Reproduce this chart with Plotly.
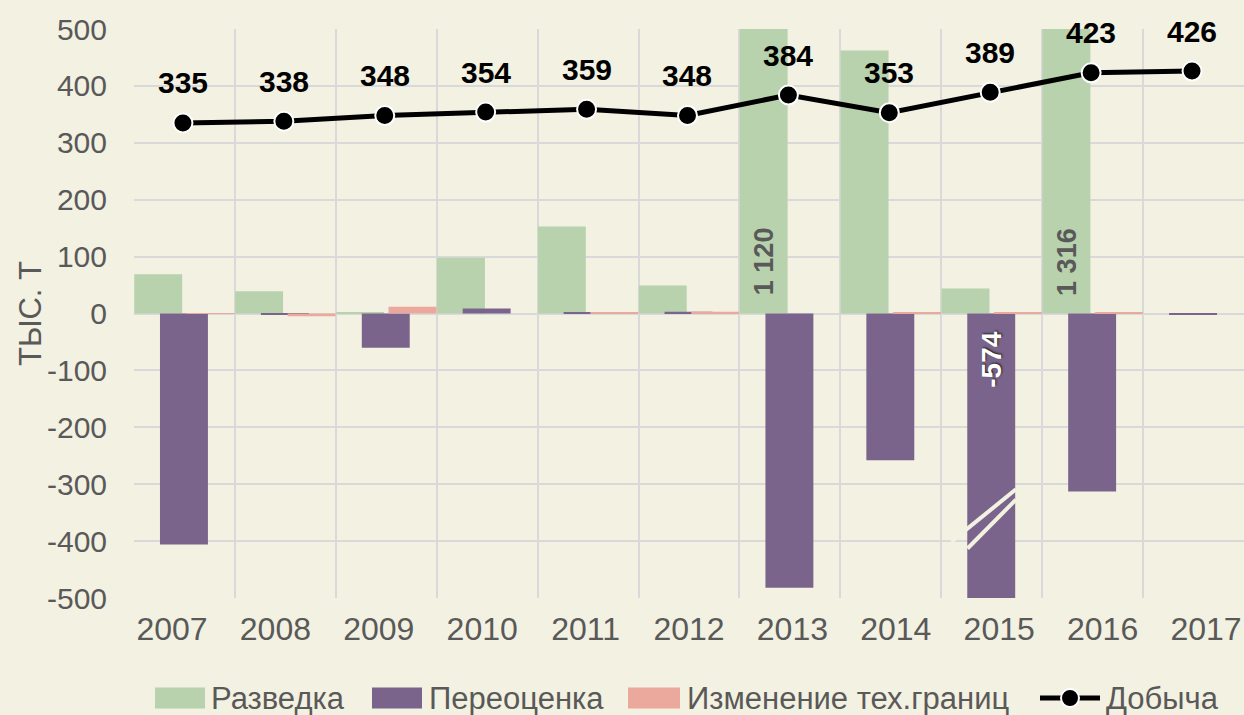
import plotly.graph_objects as go

years = ["2007", "2008", "2009", "2010", "2011", "2012", "2013", "2014", "2015", "2016", "2017"]
razvedka = [69, 39, 1, 98, 153, 49, 1120, 462, 44, 1316, 0]
pereocenka = [-406, -1, -60, 9, 1, 3, -482, -258, -574, -313, -1]
izmenenie = [0.5, -5, 12, 0, 1, 3, 0, 2, 2, 2, 0]
dobycha = [335, 338, 348, 354, 359, 348, 384, 353, 389, 423, 426]

y_ticks = [-500, -400, -300, -200, -100, 0, 100, 200, 300, 400, 500]
y_ticktext = ["-500", "-400", "-300", "-200", "-100", "0", "100", "200", "300", "400", "500"]

label_razv = {6: "1 120", 9: "1 316"}
label_pereoc = {8: "-574"}

series_names = ["Разведка", "Переоценка", "Изменение тех.границ", "Добыча"]

BG = "#F3F1E1"
GREEN = "#B8D2AD"
PURPLE = "#7A648C"
PINK = "#EBA89D"
GRID = "#D9D9D9"
TXT = "#595959"
FONT = "Liberation Sans, Arial, sans-serif"

L, R, T, B, WIDTH, HEIGHT = 134, 0, 29, 117, 1244, 715
PW = WIDTH - L - R
PH = HEIGHT - T - B


def px_x(p):
    return (p - L) / PW


def px_y(p):
    return (HEIGHT - B - p) / PH


idx = list(range(len(years)))
W = 0.475
x_g = [i + 0.24 for i in idx]
x_p = [i + 0.495 for i in idx]
x_k = [i + 0.76 for i in idx]
x_l = [i + 0.485 for i in idx]

# the category labels in the reference sit on a slightly wider spacing than the bars
lab_first, lab_step = 172, 103.4
lab_r0 = -(lab_first - L) / lab_step
lab_r1 = lab_r0 + PW / lab_step

fig = go.Figure()
fig.add_trace(go.Bar(x=x_g, y=razvedka, width=W, name=series_names[0], marker=dict(color=GREEN, line_width=0)))
fig.add_trace(go.Bar(x=x_p, y=pereocenka, width=W, name=series_names[1], marker=dict(color=PURPLE, line_width=0)))
fig.add_trace(go.Bar(x=x_k, y=izmenenie, width=W, name=series_names[2], marker=dict(color=PINK, line_width=0)))
fig.add_trace(go.Scatter(x=x_l, y=dobycha, name=series_names[3], mode="lines+markers",
                         line=dict(color="black", width=5),
                         marker=dict(color="black", size=19, line=dict(color="white", width=2))))
# invisible trace to carry the label axis
fig.add_trace(go.Scatter(x=idx, y=dobycha, xaxis="x2", mode="markers",
                         marker=dict(opacity=0), showlegend=False, hoverinfo="skip"))

annotations = []
for i, v in enumerate(dobycha):
    annotations.append(dict(x=x_l[i], y=v, text=f"<b>{v}</b>", showarrow=False, yshift=40,
                            font=dict(size=30, color="black", family=FONT)))
for i, t in label_razv.items():
    annotations.append(dict(x=x_g[i], y=0, text=f"<b>{t}</b>", showarrow=False, textangle=-90,
                            yanchor="bottom", yshift=16,
                            font=dict(size=27, color=TXT, family=FONT)))
for i, t in label_pereoc.items():
    annotations.append(dict(x=x_p[i], y=0, text=f"<b>{t}</b>", showarrow=False, textangle=-90,
                            yanchor="top", yshift=-16,
                            font=dict(size=28, color="white", family=FONT,
                                      shadow="1px 1px 2px #222")))
annotations.append(dict(x=px_x(30), y=px_y(314), xref="paper", yref="paper", text="ТЫС. Т",
                        xanchor="center", yanchor="middle",
                        showarrow=False, textangle=-90,
                        font=dict(size=31, color=TXT, family=FONT)))

# axis break marks on the clipped 2015 revaluation bar
bi = 8
shapes = [
    dict(type="line", x0=bi + 0.10, x1=bi + 0.74, y0=-401, y1=-309, line=dict(color=BG, width=4), layer="above"),
    dict(type="line", x0=bi + 0.26, x1=bi + 0.74, y0=-413, y1=-327, line=dict(color=BG, width=4), layer="above"),
]

# custom legend (wide swatches as in the reference)
leg_y = px_y(698)
sw_h = 21 / PH
swatches = [(155, 205, GREEN, 209), (372, 422, PURPLE, 427), (628, 680, PINK, 685)]
for k, (x0, x1, col, tx) in enumerate(swatches):
    shapes.append(dict(type="rect", xref="paper", yref="paper", x0=px_x(x0), x1=px_x(x1),
                       y0=leg_y - sw_h / 2, y1=leg_y + sw_h / 2, fillcolor=col, line_width=0))
    annotations.append(dict(x=px_x(tx), y=leg_y, xref="paper", yref="paper", text=series_names[k],
                            xanchor="left", yanchor="middle", showarrow=False,
                            font=dict(size=31, color=TXT, family=FONT)))
shapes.append(dict(type="line", xref="paper", yref="paper", x0=px_x(1040), x1=px_x(1100),
                   y0=leg_y, y1=leg_y, line=dict(color="black", width=5)))
shapes.append(dict(type="circle", xref="paper", yref="paper", x0=px_x(1061), x1=px_x(1079),
                   y0=leg_y - 9 / PH, y1=leg_y + 9 / PH, fillcolor="black",
                   line=dict(color="white", width=2)))
annotations.append(dict(x=px_x(1104), y=leg_y, xref="paper", yref="paper", text=series_names[3],
                        xanchor="left", yanchor="middle", showarrow=False,
                        font=dict(size=31, color=TXT, family=FONT)))

fig.update_layout(
    width=WIDTH, height=HEIGHT,
    paper_bgcolor=BG, plot_bgcolor=BG,
    barmode="overlay",
    margin=dict(l=L, r=R, t=T, b=B, autoexpand=False),
    font=dict(family=FONT, color=TXT, size=28),
    showlegend=False,
    annotations=annotations,
    shapes=shapes,
    xaxis=dict(range=[0, 11], tickmode="linear", tick0=0, dtick=1, showgrid=True,
               gridcolor=GRID, gridwidth=2, showticklabels=False, zeroline=False,
               showline=False, ticks=""),
    xaxis2=dict(range=[lab_r0, lab_r1], overlaying="x", side="bottom", tickmode="array",
                tickvals=idx, ticktext=years, showgrid=False, zeroline=False,
                showline=False, ticks="", ticklabelstandoff=9,
                tickfont=dict(size=32, color=TXT, family=FONT)),
    yaxis=dict(range=[-500, 500], tickmode="array", tickvals=y_ticks, ticktext=y_ticktext,
               showgrid=True, gridcolor=GRID, gridwidth=2, zeroline=True,
               zerolinecolor=GRID, zerolinewidth=2, ticks="", ticklabelstandoff=26,
               tickfont=dict(size=30, color=TXT, family=FONT)),
)

fig.write_html("out.html", config={"displayModeBar": False},
               post_script="document.body.style.margin='0';document.body.style.background='#F3F1E1';")
